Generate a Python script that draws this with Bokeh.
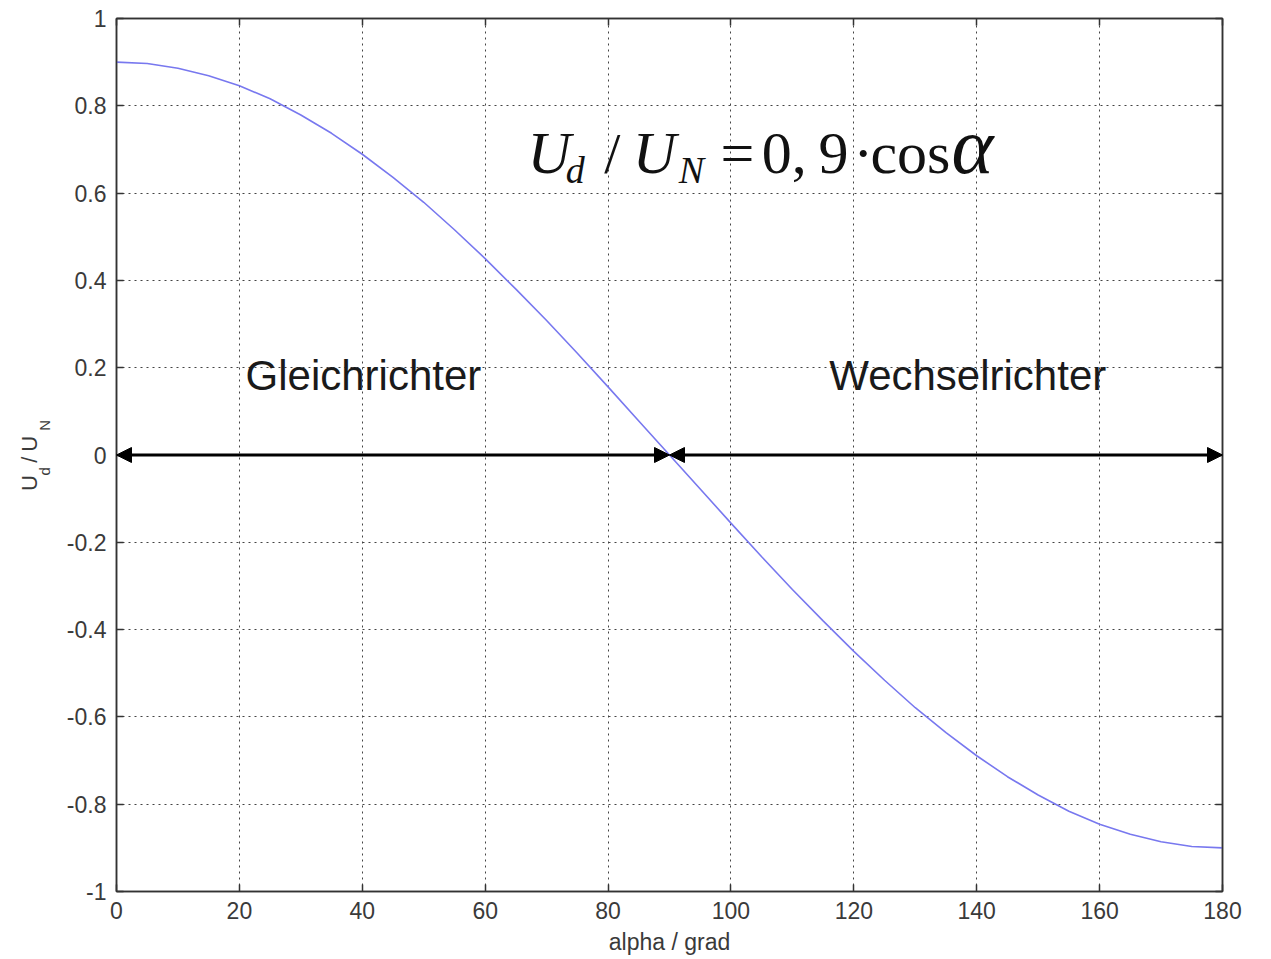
from bokeh.plotting import figure
from bokeh.layouts import row
from bokeh.models import (Label, Arrow, NormalHead, FixedTicker, LinearAxis, Range1d)
from bokeh.embed import file_html
from bokeh.resources import INLINE

# data
alpha = [0, 5, 10, 15, 20, 25, 30, 35, 40, 45, 50, 55, 60, 65, 70, 75, 80, 85, 90,
         95, 100, 105, 110, 115, 120, 125, 130, 135, 140, 145, 150, 155, 160, 165, 170, 175, 180]
ud_un = [0.900, 0.897, 0.886, 0.869, 0.846, 0.816, 0.779, 0.737, 0.689, 0.636, 0.579, 0.516,
         0.450, 0.380, 0.308, 0.233, 0.156, 0.078, 0.000,
         -0.078, -0.156, -0.233, -0.308, -0.380, -0.450, -0.516, -0.579, -0.636, -0.689,
         -0.737, -0.779, -0.816, -0.846, -0.869, -0.886, -0.897, -0.900]
xticks = [0, 20, 40, 60, 80, 100, 120, 140, 160, 180]
yticks = [-1, -0.8, -0.6, -0.4, -0.2, 0, 0.2, 0.4, 0.6, 0.8, 1]
ylabels = ["-1", "-0.8", "-0.6", "-0.4", "-0.2", "0", "0.2", "0.4", "0.6", "0.8", "1"]
region_labels = ["Gleichrichter", "Wechselrichter"]
region_x = [21.0, 116.0]
region_y = 0.182
arrow_spans = [(0, 90), (90, 180)]

FONT = "Liberation Sans"
SERIF = "Liberation Serif"
TXT = "#3a3a3a"
H = 957
LW = 60  # width of the strip holding the y-axis title

p = figure(width=1263 - LW, height=H, output_backend="svg", toolbar_location=None,
           x_range=Range1d(0, 180), y_range=Range1d(-1, 1),
           min_border_left=116 - LW, min_border_right=41, min_border_top=18, min_border_bottom=66)
p.outline_line_color = "#333333"
p.outline_line_width = 1.5
p.background_fill_color = "white"
p.border_fill_color = "white"

for ax in (p.xaxis[0], p.yaxis[0]):
    ax.major_tick_in = 7
    ax.major_tick_out = 0
    ax.minor_tick_in = 0
    ax.minor_tick_out = 0
    ax.axis_line_color = "#333333"
    ax.axis_line_width = 1.5
    ax.major_tick_line_color = "#333333"
    ax.major_tick_line_width = 1.5
    ax.major_label_text_font = FONT
    ax.major_label_text_font_size = "23px"
    ax.major_label_text_color = TXT

p.xaxis.ticker = FixedTicker(ticks=xticks)
p.yaxis.ticker = FixedTicker(ticks=yticks)
p.yaxis.major_label_overrides = {t: l for t, l in zip(yticks, ylabels)}
p.xaxis.major_label_standoff = 10
p.yaxis.major_label_standoff = 10
p.xaxis.axis_label = "alpha / grad"
p.xaxis.axis_label_text_font = FONT
p.xaxis.axis_label_text_font_size = "23px"
p.xaxis.axis_label_text_font_style = "normal"
p.xaxis.axis_label_text_color = TXT
p.xaxis.axis_label_standoff = 7

# top and right tick marks (no labels)
for loc, ticks in (("right", yticks), ("above", xticks)):
    a = LinearAxis(ticker=FixedTicker(ticks=ticks))
    a.major_tick_in = 7
    a.major_tick_out = 0
    a.minor_tick_in = 0
    a.minor_tick_out = 0
    a.major_label_text_font_size = "1px"
    a.major_label_text_color = None
    a.major_label_text_alpha = 0
    a.axis_line_color = "#333333"
    a.axis_line_width = 1.5
    a.major_tick_line_color = "#333333"
    a.major_tick_line_width = 1.5
    a.major_label_standoff = 0
    p.add_layout(a, loc)

p.grid.grid_line_color = "#444444"
p.grid.grid_line_dash = "2 4"
p.grid.grid_line_width = 1

p.line(alpha, ud_un, line_color="#7878ef", line_width=1.6)

for s, e in arrow_spans:
    p.add_layout(Arrow(x_start=s, y_start=0, x_end=e, y_end=0, line_color="black", line_width=3,
                       start=NormalHead(size=15, fill_color="black", line_color="black"),
                       end=NormalHead(size=15, fill_color="black", line_color="black")))

for t, x in zip(region_labels, region_x):
    p.add_layout(Label(x=x, y=region_y, text=t, text_font=FONT, text_font_size="42px",
                       text_color="#1a1a1a", text_baseline="middle", text_align="left"))

# formula U_d / U_N = 0,9 · cos alpha
formula = [
    ("U", 66.9, 0.6914, "60px", "italic"),
    ("d", 73.1, 0.6536, "38px", "italic"),
    ("/", 79.4, 0.6914, "58px", "normal"),
    ("U", 84.0, 0.6914, "60px", "italic"),
    ("N", 91.5, 0.6536, "38px", "italic"),
    ("=", 98.3, 0.6914, "60px", "normal"),
    ("0,", 105.0, 0.6914, "60px", "normal"),
    ("9", 114.25, 0.6914, "60px", "normal"),
    ("·", 119.9, 0.6914, "60px", "normal"),
    ("cos", 122.7, 0.6914, "60px", "normal"),
    ("α", 135.9, 0.7068, "80px", "italic"),
]
for t, x, y, fs, st in formula:
    p.add_layout(Label(x=x, y=y, text=t, text_font=SERIF, text_font_size=fs,
                       text_font_style=st, text_color="#111111",
                       text_baseline="middle", text_align="left"))

# narrow strip on the left carrying the rotated y-axis title U_d / U_N
q = figure(width=LW, height=H, output_backend="svg", toolbar_location=None,
           x_range=Range1d(0, LW), y_range=Range1d(H, 0),
           x_axis_location=None, y_axis_location=None,
           min_border_left=0, min_border_right=0, min_border_top=0, min_border_bottom=0)
q.outline_line_color = None
q.grid.visible = False
q.background_fill_color = "white"
q.border_fill_color = "white"

ylab = [
    ("U", 28.5, 518, "22px"),
    ("d", 43.8, 501, "15px"),
    ("/", 28.5, 487, "22px"),
    ("U", 28.5, 475, "22px"),
    ("N", 43.8, 452, "15px"),
]
for t, x, y, fs in ylab:
    q.add_layout(Label(x=x, y=y, text=t, text_font=FONT, text_font_size=fs,
                       text_color=TXT, angle=1.5708, text_baseline="middle",
                       text_align="left"))

layout = row(q, p, spacing=0)
open("out.html", "w").write(file_html(layout, INLINE))
